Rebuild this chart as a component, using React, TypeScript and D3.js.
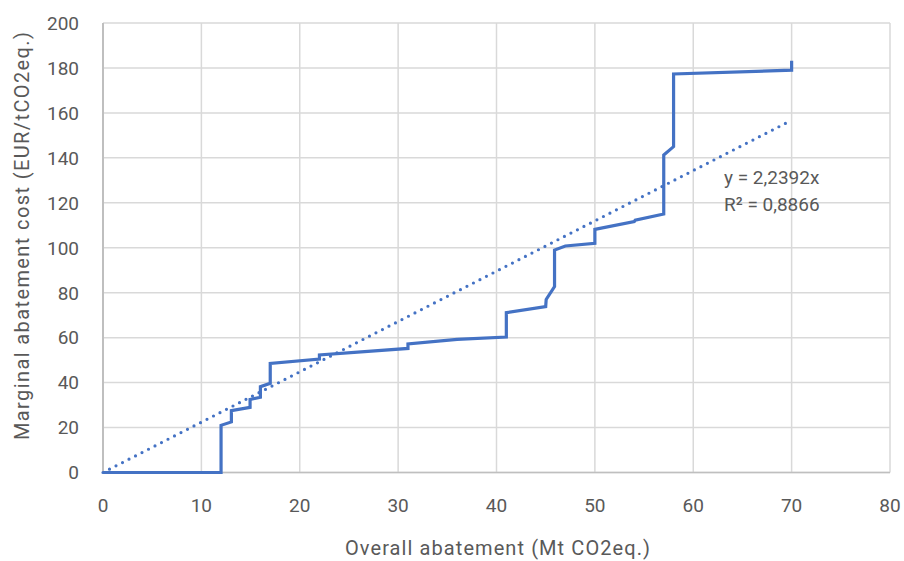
import React from "react";
import * as d3 from "d3";

const curveX = [0, 12, 12, 13.05, 13.05, 14.95, 14.95, 16, 16, 17, 17, 22, 22, 31, 31, 36, 41, 41, 45, 45.05, 45.9, 45.9, 47, 50, 50, 54, 54.1, 57, 57, 58, 58, 70, 70];
const curveY = [0, 0, 21, 22.5, 27.5, 29, 32.5, 33.5, 38.2, 39.7, 48.5, 50.5, 52.3, 55.2, 57.2, 59.2, 60.3, 71.1, 73.8, 77, 82.7, 99, 100.8, 102, 108.2, 111.6, 112.3, 115, 141.3, 145, 177.3, 179, 183.2];
const trendSlope = 2.2392;
const trendRange = [0, 70];
const xTicks = [0, 10, 20, 30, 40, 50, 60, 70, 80];
const yTicks = [0, 20, 40, 60, 80, 100, 120, 140, 160, 180, 200];
const equationLines = ["y = 2,2392x", "R² = 0,8866"];
const xTitle = "Overall abatement (Mt CO2eq.)";
const yTitle = "Marginal abatement cost (EUR/tCO2eq.)";

const W = 904;
const H = 561;
const M = { left: 103, top: 23, right: 14, bottom: 88.5 };
const FONT = "Roboto, 'Noto Sans', sans-serif";
const TEXT = "#595959";
const BLUE = "#4472C4";
const GRID = "#d9d9d9";

export default function App() {
  const x = d3.scaleLinear().domain([0, 80]).range([M.left, W - M.right]);
  const y = d3.scaleLinear().domain([0, 200]).range([H - M.bottom, M.top]);
  const pts: [number, number][] = curveX.map((v, i) => [v, curveY[i]]);
  const line = d3
    .line<[number, number]>()
    .x((d) => x(d[0]))
    .y((d) => y(d[1]));
  const trend: [number, number][] = trendRange.map((v) => [v, v * trendSlope]);

  return (
    <svg width={W} height={H} style={{ position: "absolute", left: 0, top: 0, background: "#fff" }}>
      <rect x={0} y={0} width={W} height={H} fill="#fff" />
      {yTicks.map((t) => (
        <line key={"gy" + t} x1={x(0)} x2={x(80)} y1={y(t)} y2={y(t)} stroke={GRID} strokeWidth={1.5} />
      ))}
      {xTicks.map((t) => (
        <line key={"gx" + t} x1={x(t)} x2={x(t)} y1={y(0)} y2={y(200)} stroke={t === 0 ? "#bfbfbf" : GRID} strokeWidth={t === 0 ? 2 : 1.5} />
      ))}
      <line x1={x(0)} x2={x(80)} y1={y(0)} y2={y(0)} stroke="#bfbfbf" strokeWidth={1.5} />
      <path
        d={line(trend) || ""}
        fill="none"
        stroke={BLUE}
        strokeWidth={3.2}
        strokeLinecap="round"
        strokeDasharray="0 7.3"
      />
      <path d={line(pts) || ""} fill="none" stroke={BLUE} strokeWidth={3.2} strokeLinejoin="miter" />
      {yTicks.map((t) => (
        <text key={"ty" + t} x={79} y={y(t)} dy="0.36em" textAnchor="end" fontFamily={FONT} fontSize={19} fill={TEXT}>
          {t}
        </text>
      ))}
      {xTicks.map((t) => (
        <text key={"tx" + t} x={x(t)} y={512} textAnchor="middle" fontFamily={FONT} fontSize={19} fill={TEXT}>
          {t}
        </text>
      ))}
      <text x={345} y={555} textLength={305} lengthAdjust="spacing" fontFamily={FONT} fontSize={20} fill={TEXT}>
        {xTitle}
      </text>
      <text
        transform={`translate(29,${440}) rotate(-90)`}
        textLength={408}
        lengthAdjust="spacing"
        fontFamily={FONT}
        fontSize={20}
        fill={TEXT}
      >
        {yTitle}
      </text>
      {equationLines.map((s, i) => (
        <text key={"eq" + i} x={724} y={184} dy={i * 27} fontFamily={FONT} fontSize={19} fill={TEXT}>
          {s}
        </text>
      ))}
    </svg>
  );
}
